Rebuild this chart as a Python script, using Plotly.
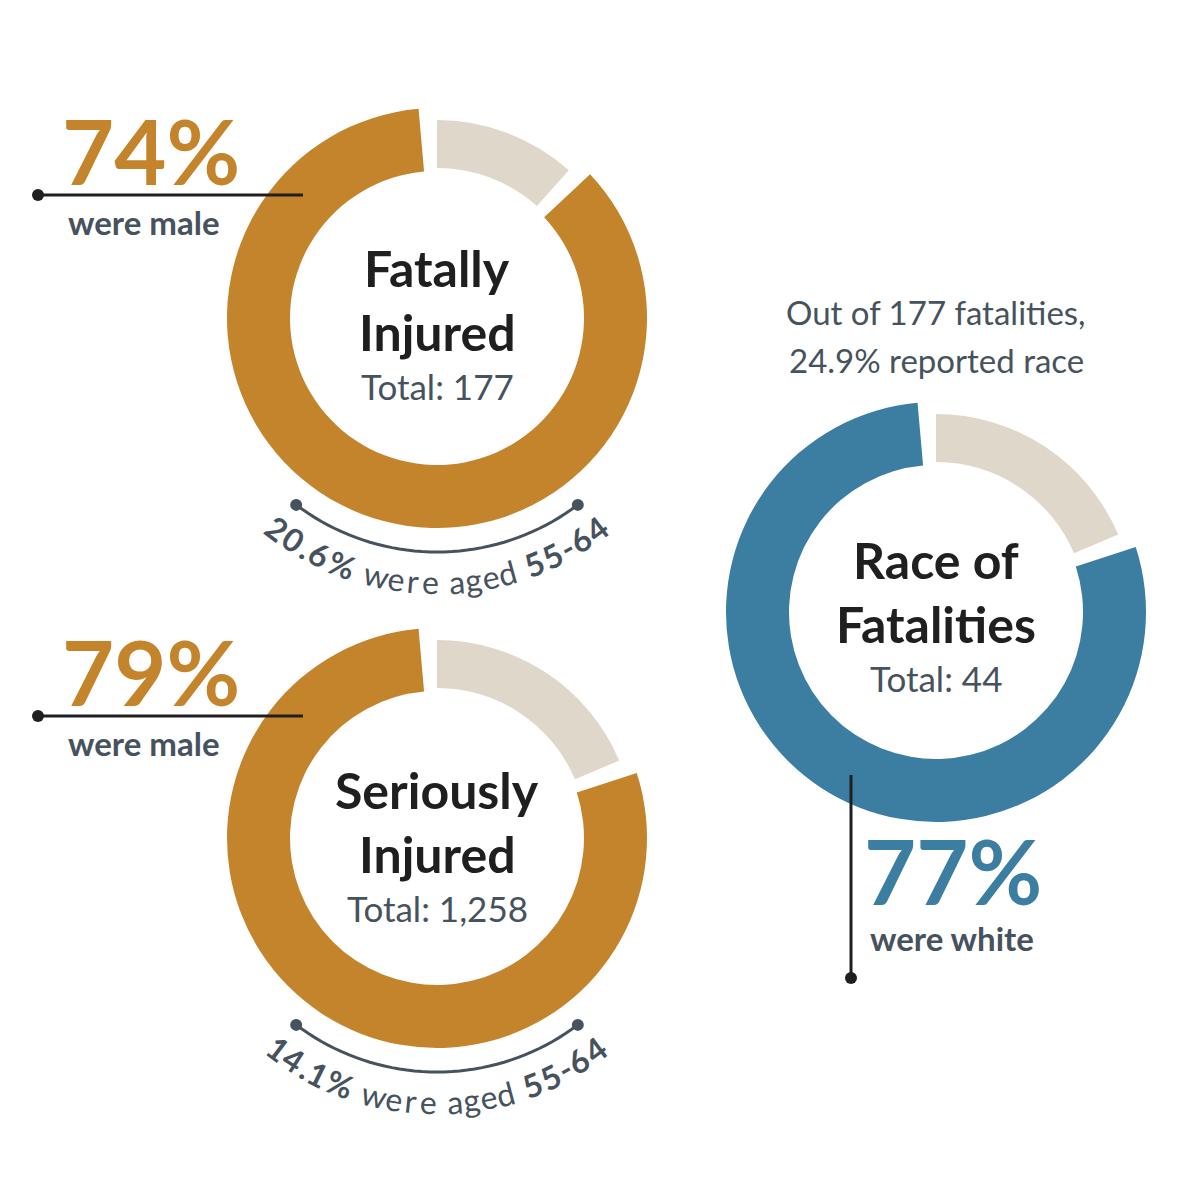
import math
import plotly.graph_objects as go

# data
donut_names = ["Fatally Injured", "Seriously Injured", "Race of Fatalities"]
main_share = [87, 80, 80]      # visual share of coloured slice
other_share = [13, 20, 20]
headline = ["74%", "79%", "77%"]
headline_sub = ["were male", "were male", "were white"]
totals = ["Total: 177", "Total: 1,258", "Total: 44"]
age_pct = ["20.6%", "14.1%"]

GOLD = "#C4842C"; BEIGE = "#DFD7CA"; BLUE = "#3B7EA1"; SLATE = "#46525D"; DARK = "#1F1F1F"
FONT = "Lato"
W = 1200.0
OFF = 8

def px(x): return (x - OFF) / W
def py(y): return 1 - (y - OFF) / W

centers = [(437, 318), (437, 838), (936, 612)]
colors = [GOLD, GOLD, BLUE]
R, RB = 210, 198

fig = go.Figure()
gap = 1.4
for i, (cx, cy) in enumerate(centers):
    m, o = main_share[i], other_share[i]
    vals = [o - gap, gap, m - gap, gap]
    fig.add_trace(go.Pie(values=vals, sort=False, direction="clockwise", rotation=0,
                         hole=147 / R, textinfo="none", hoverinfo="skip", showlegend=False,
                         marker=dict(colors=["rgba(0,0,0,0)", "rgba(0,0,0,0)", colors[i], "rgba(0,0,0,0)"]),
                         domain=dict(x=[px(cx - R), px(cx + R)], y=[py(cy + R), py(cy - R)])))
    fig.add_trace(go.Pie(values=vals, sort=False, direction="clockwise", rotation=0,
                         hole=150 / RB, textinfo="none", hoverinfo="skip", showlegend=False,
                         marker=dict(colors=[BEIGE, "rgba(0,0,0,0)", "rgba(0,0,0,0)", "rgba(0,0,0,0)"]),
                         domain=dict(x=[px(cx - RB), px(cx + RB)], y=[py(cy + RB), py(cy - RB)])))

shapes = []; ann = []
def line(x0, y0, x1, y1):
    shapes.append(dict(type="line", xref="paper", yref="paper", x0=px(x0), y0=py(y0), x1=px(x1), y1=py(y1),
                       line=dict(color=DARK, width=3), layer="above"))
def dot(x, y, r=6, c=DARK):
    shapes.append(dict(type="circle", xref="paper", yref="paper", x0=px(x - r), x1=px(x + r), y0=py(y + r), y1=py(y - r),
                       fillcolor=c, line=dict(width=0), layer="above"))
def text(x, y, s, size, color, bold=False, xanchor="center", angle=0):
    ann.append(dict(x=px(x), y=py(y), xref="paper", yref="paper", text=("<b>%s</b>" % s) if bold else s,
                    showarrow=False, font=dict(size=size, color=color, family=FONT), xanchor=xanchor,
                    yanchor="middle", textangle=angle))

# male annotations
for i, ly in enumerate([195, 716]):
    line(38, ly, 303, ly); dot(38, ly)
    text(60, ly - 45, headline[i], 90, GOLD, True, "left")
    text(66, ly + 27, headline_sub[i], 33, SLATE, True, "left")
# race annotation
line(851, 775, 851, 978); dot(851, 978)
text(862, 870, headline[2], 90, BLUE, True, "left")
text(868, 938, headline_sub[2], 33, SLATE, True, "left")
text(936, 312, "Out of 177 fatalities,", 33, SLATE)
text(936, 360, "24.9% reported race", 33, SLATE)

# centre labels
words = [("Fatally", "Injured"), ("Seriously", "Injured"), ("Race of", "Fatalities")]
for i, (cx, cy) in enumerate(centers):
    w1, w2 = words[i]
    off = -50 if i == 0 else (-48 if i == 1 else -52)
    text(cx, cy + off, w1, 50, DARK, True)
    text(cx, cy + off + 64, w2, 50, DARK, True)
    text(cx, cy + off + 118, totals[i], 35, SLATE)

# age arcs
for i in range(2):
    cx, cy = centers[i]
    pts = []
    for k in range(41):
        a = math.radians(37 - 74 * k / 40)
        pts.append((cx - 234 * math.sin(a), cy + 234 * math.cos(a)))
    path = "M " + " L ".join("%f,%f" % (px(x), py(y)) for x, y in pts)
    shapes.append(dict(type="path", xref="paper", yref="paper", path=path, line=dict(color=SLATE, width=3)))
    dot(*pts[0], c=SLATE); dot(*pts[-1], c=SLATE)
    segs = [(age_pct[i], True), (" were aged ", False), ("55-64", True)]
    chars = []
    for s, b in segs:
        for ch in s:
            wdt = {" ": 10, ".": 10, "-": 12, "%": 28, "1": 18}.get(ch, 20 if b else 17)
            if not b and ch in "wm": wdt = 24
            chars.append((ch, b, wdt))
    total = sum(c[2] for c in chars)
    Rt = 264
    s0 = -total / 2
    for ch, b, wdt in chars:
        mid = s0 + wdt / 2
        s0 += wdt
        if ch == " ": continue
        a = -mid / Rt
        x = cx - Rt * math.sin(a); y = cy + Rt * math.cos(a)
        text(x, y, ch, 32, SLATE, b, "center", math.degrees(a))

fig.update_layout(width=1200, height=1200, margin=dict(l=0, r=0, t=0, b=0),
                  paper_bgcolor="white", plot_bgcolor="white", shapes=shapes, annotations=ann)
fig.write_html("out.html")
